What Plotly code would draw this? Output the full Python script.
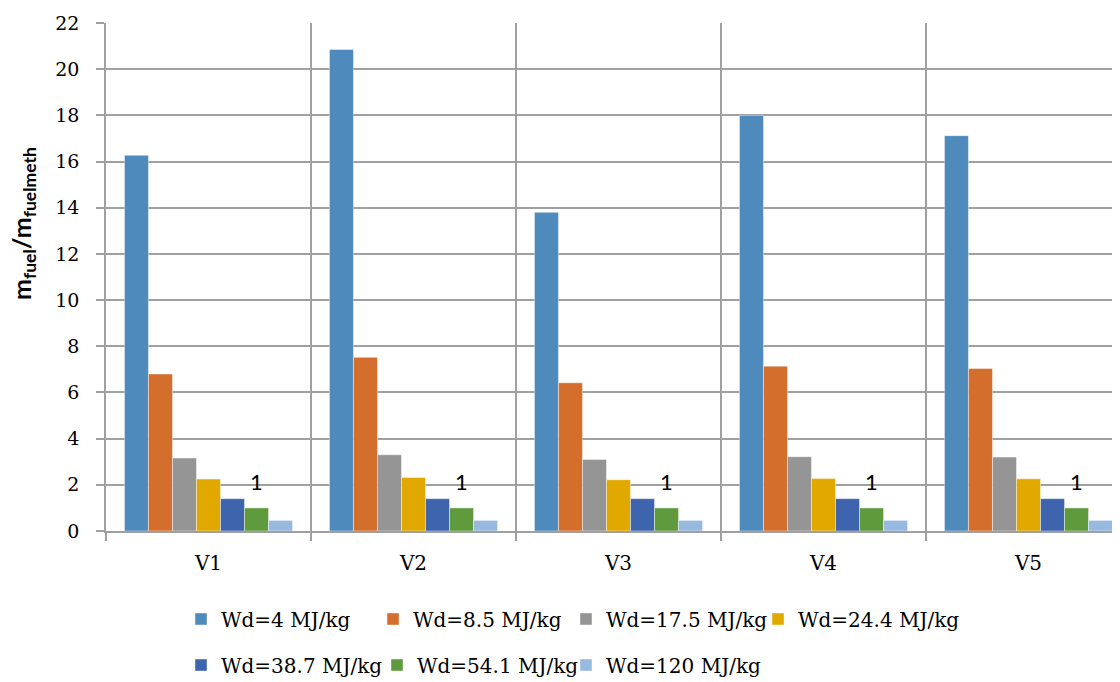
import plotly.graph_objects as go

categories = ["V1", "V2", "V3", "V4", "V5"]
series_names = ["Wd=4 MJ/kg", "Wd=8.5 MJ/kg", "Wd=17.5 MJ/kg", "Wd=24.4 MJ/kg",
                "Wd=38.7 MJ/kg", "Wd=54.1 MJ/kg", "Wd=120 MJ/kg"]
wd4 = [16.27, 20.85, 13.8, 18.0, 17.12]
wd8_5 = [6.8, 7.52, 6.42, 7.14, 7.04]
wd17_5 = [3.16, 3.3, 3.1, 3.22, 3.2]
wd24_4 = [2.25, 2.32, 2.22, 2.27, 2.26]
wd38_7 = [1.4, 1.4, 1.4, 1.4, 1.4]
wd54_1 = [1.0, 1.0, 1.0, 1.0, 1.0]
wd120 = [0.46, 0.46, 0.46, 0.46, 0.46]
series_values = [wd4, wd8_5, wd17_5, wd24_4, wd38_7, wd54_1, wd120]
colors = ["#4F8ABD", "#D46E2C", "#959595", "#E1A900", "#3D64AD", "#5F9A3C", "#97B9E0"]
y_ticks = list(range(0, 23, 2))
label_series = 5  # data labels shown for Wd=54.1 series

GRID = "#A0A0A0"
SERIF = "DejaVu Serif"
BARGAP = 0.18

# the page body has an 8px margin: figure is 1112x674 so it ends at the window edge
PAGE_OFF = 8
FIG_W, FIG_H = 1120 - PAGE_OFF, 682 - PAGE_OFF
# plot area in page pixels
PLOT_L, PLOT_T, PLOT_B = 106, 23, 531
PLOT_W = 1120 - PLOT_L
PLOT_H = PLOT_B - PLOT_T
# legend entry positions in page pixels (two rows, as in the reference)
legend_px = [(181, 619), (373, 619), (566, 619), (758, 619),
             (181, 665), (377, 665), (566, 665)]

fig = go.Figure()
layout_legends = {}
for i, (name, vals, col) in enumerate(zip(series_names, series_values, colors)):
    key = "legend" if i == 0 else f"legend{i + 1}"
    fig.add_trace(go.Bar(
        x=categories, y=vals, name=name,
        marker=dict(color=col, line=dict(color="rgba(255,255,255,0.55)", width=0.8)),
        legend=key, showlegend=True,
    ))
    px, py = legend_px[i]
    layout_legends[key] = dict(
        x=(px - PLOT_L) / PLOT_W, y=(PLOT_B - py) / PLOT_H,
        xanchor="left", yanchor="middle", orientation="h",
        font=dict(family=SERIF, size=20, color="#000000"),
        bgcolor="rgba(0,0,0,0)",
    )

# data labels "1" above the Wd=54.1 bars
n = len(series_names)
bw = (1 - BARGAP) / n
offset = (label_series - (n - 1) / 2) * bw
for ci, v in enumerate(series_values[label_series]):
    fig.add_annotation(
        x=ci + offset, y=v, xref="x", yref="y",
        text=f"{v:g}", showarrow=False, yshift=26,
        font=dict(family="Lato", size=22, color="#000000"),
    )

# y-axis title
fig.add_annotation(
    xref="paper", yref="paper", x=0, y=(PLOT_B - 224) / PLOT_H,
    xanchor="center", yanchor="middle", xshift=-(PLOT_L - 23),
    text="<b>m<sub>fuel</sub>/m<sub>fuelmeth</sub></b>",
    textangle=-90, showarrow=False,
    font=dict(family="Lato", size=25, color="#000000"),
)

fig.update_layout(
    width=FIG_W, height=FIG_H, showlegend=True,
    margin=dict(l=PLOT_L - PAGE_OFF, r=0, t=PLOT_T - PAGE_OFF,
                b=FIG_H - (PLOT_B - PAGE_OFF), autoexpand=False),
    paper_bgcolor="white", plot_bgcolor="white",
    barmode="group", bargap=BARGAP, bargroupgap=0,
    xaxis=dict(
        type="category", categoryorder="array", categoryarray=categories,
        range=[-0.5, -0.5 + PLOT_W / 205], tickson="boundaries", automargin=False,
        showgrid=True, gridcolor=GRID, gridwidth=1.5,
        showline=True, linecolor=GRID, linewidth=1.5,
        ticks="outside", ticklen=8, tickcolor=GRID, tickwidth=1.5,
        ticklabelstandoff=13,
        tickfont=dict(family=SERIF, size=20, color="#000000"),
    ),
    yaxis=dict(
        range=[0, 22], tickvals=y_ticks, automargin=False,
        showgrid=True, gridcolor=GRID, gridwidth=1.5, zeroline=False,
        showline=True, linecolor=GRID, linewidth=1.5,
        ticks="outside", ticklen=8, tickcolor=GRID, tickwidth=1.5,
        ticklabelstandoff=13,
        tickfont=dict(family=SERIF, size=19, color="#000000"),
    ),
    **layout_legends,
)

fig.write_html("out.html")
